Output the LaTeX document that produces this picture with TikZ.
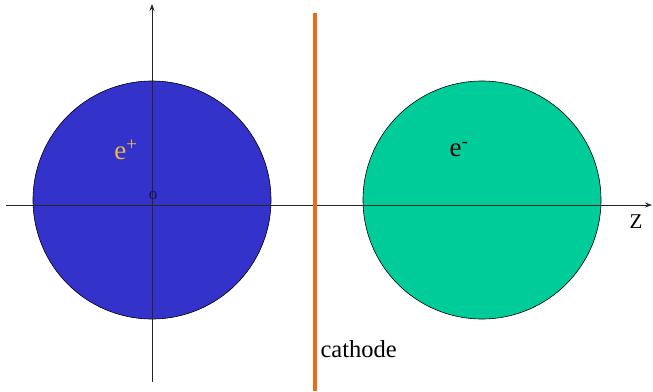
\documentclass[tikz,border=0pt]{standalone}
\usepackage{fontspec}
\setmainfont{Liberation Serif}
\usepackage{xcolor}
\usetikzlibrary{positioning, arrows.meta, calc}
\definecolor{posblue}{HTML}{3333CC}
\definecolor{elecgreen}{HTML}{00CC99}
\definecolor{cathorange}{HTML}{EE6A1A}
\definecolor{posgold}{HTML}{E8B848}

\begin{document}
\begin{tikzpicture}[x=1pt, y=-1pt,
    bunch/.style={circle, draw=black, line width=0.6pt, minimum size=238pt, inner sep=0pt},
    axisline/.style={draw=black!85, line width=0.8pt, -{Stealth[length=7pt, width=5pt]}}]
    \useasboundingbox (0,0) rectangle (653,391);
    % bunches
    \node[bunch, fill=posblue] (posbunch) at (152,200) {};
    \node[bunch, fill=elecgreen] (elecbunch) at (482,200) {};
    % axes
    \coordinate (zstart) at (6,205);
    \coordinate (zend) at (652,205);
    \coordinate (ybottom) at (152,382);
    \coordinate (ytop) at (152,4);
    \draw[axisline] (zstart) -- (zend);
    \draw[axisline] (ybottom) -- (ytop);
    % cathode
    \coordinate (cathtop) at (315,13);
    \coordinate (cathbot) at (315,391);
    \draw[cathorange, line width=4pt] (cathtop) -- (cathbot);
    % labels
    \node[text=posgold, font=\fontsize{27}{30}\selectfont] (poslabel) at (126,150) {e\textsuperscript{+}};
    \node[font=\fontsize{27}{30}\selectfont] (eleclabel) at (459,150) {e\textsuperscript{-}};
    \node[font=\fontsize{17}{20}\selectfont, text=posblue!40!black] (origin) at (153,196) {o};
    \node[font=\fontsize{21}{24}\selectfont] (zlabel) at (636,222) {Z};
    \node[font=\fontsize{24.5}{28}\selectfont, anchor=west] (cathlabel) at (317,349) {cathode};
\end{tikzpicture}
\end{document}
